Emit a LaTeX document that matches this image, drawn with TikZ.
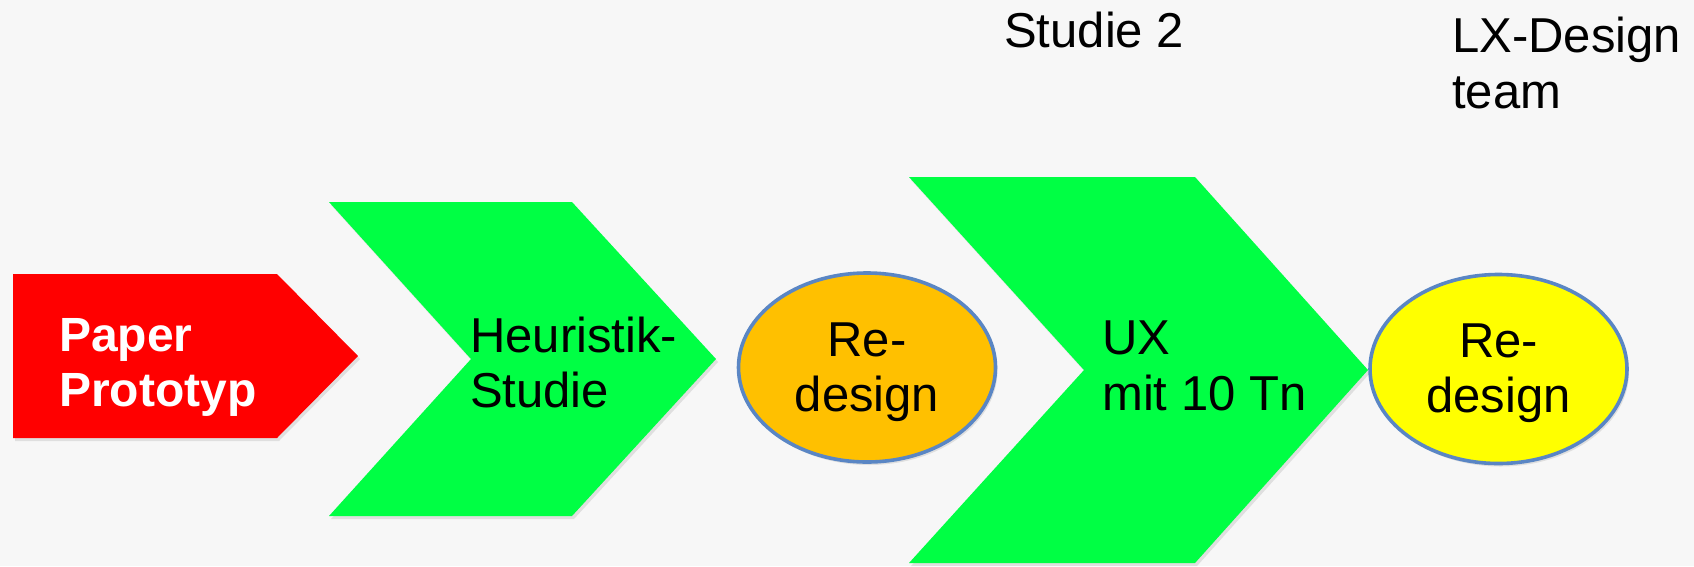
\documentclass[tikz,border=0pt]{standalone}
\usepackage{fontspec}
\setmainfont{Liberation Sans}
\usetikzlibrary{shapes.geometric,shadows}
\definecolor{bg}{HTML}{F7F7F7}
\definecolor{chev}{HTML}{00FF44}
\definecolor{rd}{HTML}{FF0000}
\definecolor{orng}{HTML}{FFC000}
\definecolor{ylw}{HTML}{FFFF00}
\definecolor{rim}{HTML}{5A86C4}
\begin{document}
\begin{tikzpicture}[x=1pt,y=-1pt,
  shdw/.style={drop shadow={opacity=0.2,shadow xshift=2pt,shadow yshift=-3pt}},
  lbl/.style={inner sep=0pt,anchor=north west,align=left,font=\fontsize{49}{55}\selectfont},
  blob/.style={ellipse,draw=rim,line width=3.6pt,minimum width=257pt,minimum height=189pt,inner sep=0pt,shdw},
  ctxt/.style={inner sep=0pt,anchor=north,align=center,font=\fontsize{49}{55}\selectfont}]
\useasboundingbox (0,0) rectangle (1694,566);
\fill[bg] (0,0) rectangle (1694,566);
% red pentagon
\path[fill=rd,shdw] (13,274) -- (277,274) -- (358,356) -- (277,438) -- (13,438) -- cycle;
% green chevron 1
\path[fill=chev,shdw] (329,202) -- (572,202) -- (716,359) -- (572,516) -- (329,516) -- (471,359) -- cycle;
% green chevron 2
\path[fill=chev,shdw] (909,177) -- (1195,177) -- (1368,370) -- (1195,563) -- (909,563) -- (1084,370) -- cycle;
% ellipses
\node[blob,fill=orng] (rd1) at (867,367.5) {};
\node[blob,fill=ylw] (rd2) at (1498.5,369) {};
% texts
\node[lbl,font=\fontsize{48}{55}\selectfont\bfseries,text=white] (pp) at (59,318.6) {Paper\\Prototyp};
\node[lbl] (hs) at (470,317) {Heuristik-\\Studie};
\node[ctxt] (rdt1) at (867,323) {Re-\\design};
\node[lbl,font=\fontsize{49}{56}\selectfont] (ux) at (1102,321) {UX\\mit 10 Tn};
\node[ctxt] (rdt2) at (1498.5,324) {Re-\\design};
\node[lbl] (s2) at (1004,12) {Studie 2};
\node[lbl,font=\fontsize{49}{56}\selectfont] (lx) at (1452,17) {LX-Design\\team};
\end{tikzpicture}
\end{document}
